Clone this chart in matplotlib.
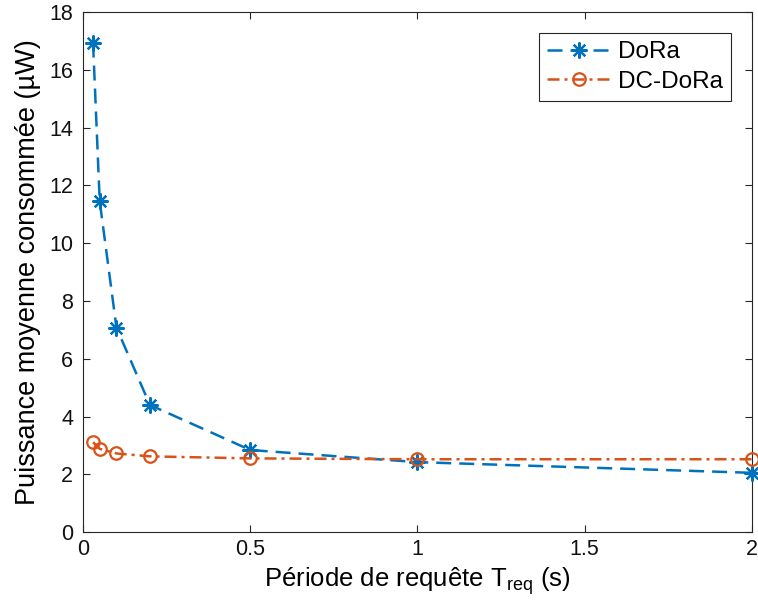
import numpy as np
import matplotlib
matplotlib.use('Agg')
import matplotlib.pyplot as plt

plt.rcParams['font.family'] = ['Liberation Sans', 'DejaVu Sans']
plt.rcParams['mathtext.default'] = 'regular'

t_req = [0.03, 0.05, 0.1, 0.2, 0.5, 1, 2]
dora = [16.95, 11.45, 7.08, 4.4, 2.84, 2.42, 2.05]
dc_dora = [3.11, 2.88, 2.72, 2.62, 2.55, 2.52, 2.52]

blue = '#0072BD'
orange = '#D95319'

fig = plt.figure(figsize=(7.58, 6.12), dpi=100)
ax = fig.add_axes([0.1095, 0.1307, 0.8825, 0.8493])

ax.plot(t_req, dora, ls='--', dashes=(6, 3.2), marker=(8, 2, 0), color=blue,
        lw=1.8, ms=11.5, mew=1.6, label='DoRa', clip_on=False, zorder=3)
ax.plot(t_req, dc_dora, ls='-.', dashes=(4.8, 2, 1.2, 2), marker='o',
        color=orange, lw=1.8, ms=9, mfc='none', mew=1.6, label='DC-DoRa',
        clip_on=False, zorder=3)

ax.set_xlim(0, 2)
ax.set_ylim(0, 18)
ax.set_xticks([0, 0.5, 1, 1.5, 2])
ax.set_xticklabels(['0', '0.5', '1', '1.5', '2'])
ax.set_yticks(np.arange(0, 19, 2))
ax.tick_params(direction='in', top=True, right=True, labelsize=15.5,
               length=5, width=0.8, colors='#262626', labelcolor='#111111',
               pad=5)
ax.tick_params(axis='y', pad=7)
for s in ax.spines.values():
    s.set_color('#262626')
    s.set_linewidth(0.8)

ax.set_xlabel('Période de requête T$_{req}$ (s)', fontsize=18.5, labelpad=4)
ax.set_ylabel('Puissance moyenne consommée (µW)', fontsize=19.5, labelpad=6)

leg = ax.legend(loc='upper right', fontsize=17.5, fancybox=False,
                edgecolor='#262626', framealpha=1, handlelength=2.6,
                handletextpad=0.3, borderpad=0.35, labelspacing=0.3,
                borderaxespad=0.85)
leg.get_frame().set_linewidth(0.8)

fig.savefig('out.png', dpi=100)
